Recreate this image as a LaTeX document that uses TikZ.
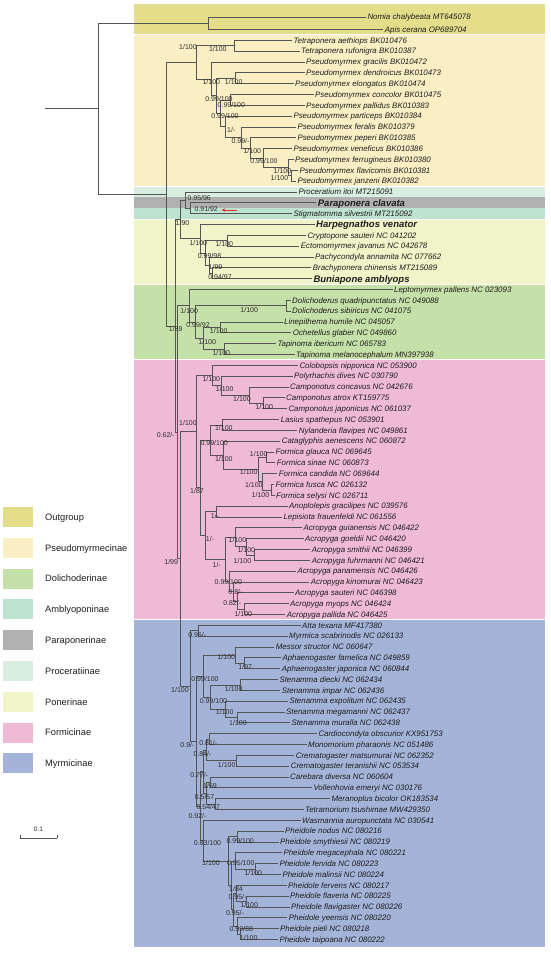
\documentclass[tikz,border=0pt]{standalone}
\usepackage{fontspec}
\setmainfont{Liberation Sans}
\usetikzlibrary{calc,arrows.meta}
\definecolor{cOut}{RGB}{228,222,138}
\definecolor{cPse}{RGB}{250,239,196}
\definecolor{cPro}{RGB}{216,238,224}
\definecolor{cPar}{RGB}{176,176,176}
\definecolor{cAmb}{RGB}{190,227,208}
\definecolor{cPon}{RGB}{240,244,200}
\definecolor{cDol}{RGB}{197,224,168}
\definecolor{cFor}{RGB}{239,186,214}
\definecolor{cMyr}{RGB}{164,179,216}
\definecolor{brc}{RGB}{85,85,85}
\definecolor{txc}{RGB}{30,30,30}
\definecolor{svcol}{RGB}{45,45,45}
\definecolor{arrred}{RGB}{230,40,50}
\tikzset{
  br/.style={draw=brc, line width=0.6pt},
  leafst/.style={anchor=west, inner xsep=1.5pt, inner ysep=0pt, text height=5.66pt, text depth=0pt, font=\fontsize{7.9}{9}\selectfont\itshape, text=txc},
  boldleaf/.style={leafst, text height=6.8pt, font=\fontsize{9.5}{11}\selectfont\bfseries\itshape},
  svst/.style={inner sep=0pt, text height=5pt, text depth=0pt, font=\fontsize{7}{8}\selectfont, text=svcol},
  legsq/.style={draw=none, minimum width=30pt, minimum height=20pt, inner sep=0pt},
  legtx/.style={anchor=west, inner sep=0pt, text height=6.7pt, text depth=0pt, font=\fontsize{9.3}{11}\selectfont, text=txc},
}
\newcounter{svn}
\newcommand\sv[3]{\stepcounter{svn}\node[svst] (sv\arabic{svn}) at (#2,#3) {#1};}
\newcommand\lf[4]{\node[leafst] (#1) at ({#3-1.5},{40.3+(#2-3)*10.833}) {#4};}
\newcommand\lfb[4]{\node[boldleaf] (#1) at ({#3-1.5},{40.3+(#2-3)*10.833}) {#4};}
\newcommand\inode[4]{\coordinate (tmp) at ($(#3)!0.5!(#4)$);\coordinate (#1) at (#2,0 |- tmp);\draw[br] (#1) |- (#3);\draw[br] (#1) |- (#4);}
\begin{document}
\begin{tikzpicture}[x=1pt,y=-1pt]
\useasboundingbox (0,0) rectangle (550,953);
% bands
\fill[cOut] (134,4) rectangle (545,34.4);
\fill[cPse] (134,35.4) rectangle (545,186);
\fill[cPro] (134,187) rectangle (545,197.3);
\fill[cPar] (134,197.3) rectangle (545,208.2);
\fill[cAmb] (134,208.2) rectangle (545,218.5);
\fill[cPon] (134,219.5) rectangle (545,283.5);
\fill[cDol] (134,284.5) rectangle (545,359.4);
\fill[cFor] (134,360.4) rectangle (545,619.4);
\fill[cMyr] (134,620.4) rectangle (545,947);
% leaves
\lf{L1}{0.85}{367.3}{Nomia chalybeata MT645078}
\lf{L2}{2}{384.7}{Apis cerana OP689704}
\lf{L3}{3}{293.3}{Tetraponera aethiops BK010476}
\lf{L4}{4}{301}{Tetraponera rufonigra BK010387}
\lf{L5}{5}{306}{Pseudomyrmex gracilis BK010472}
\lf{L6}{6}{306}{Pseudomyrmex dendroicus BK010473}
\lf{L7}{7}{295}{Pseudomyrmex elongatus BK010474}
\lf{L8}{8}{315}{Pseudomyrmex concolor BK010475}
\lf{L9}{9}{306}{Pseudomyrmex pallidus BK010383}
\lf{L10}{10}{293.3}{Pseudomyrmex particeps BK010384}
\lf{L11}{11}{297.3}{Pseudomyrmex feralis BK010379}
\lf{L12}{12}{297.3}{Pseudomyrmex peperi BK010385}
\lf{L13}{13}{293.3}{Pseudomyrmex veneficus BK010386}
\lf{L14}{14}{295}{Pseudomyrmex ferrugineus BK010380}
\lf{L15}{15}{299.3}{Pseudomyrmex flavicomis BK010381}
\lf{L16}{16}{297.3}{Pseudomyrmex janzeni BK010382}
\lf{L17}{17}{298.3}{Proceratium itoi MT215091}
\lfb{L18}{18}{317.7}{Paraponera clavata}
\lf{L19}{19}{293.3}{Stigmatomma silvestrii MT215092}
\lfb{L20}{20}{316}{Harpegnathos venator}
\lf{L21}{21}{307.3}{Cryptopone sauteri NC 041202}
\lf{L22}{22}{300.7}{Ectomomyrmex javanus NC 042678}
\lf{L23}{23}{315}{Pachycondyla annamita NC 077662}
\lf{L24}{24}{312.7}{Brachyponera chinensis MT215089}
\lfb{L25}{25}{313.3}{Buniapone amblyops}
\lf{L26}{26}{394}{Leptomyrmex pallens NC 023093}
\lf{L27}{27}{292}{Dolichoderus quadripunctatus NC 049088}
\lf{L28}{28}{292}{Dolichoderus sibiricus NC 041075}
\lf{L29}{29}{284}{Linepithema humile NC 045057}
\lf{L30}{30}{292.7}{Ochetellus glaber NC 049860}
\lf{L31}{31}{277.3}{Tapinoma ibericum NC 065783}
\lf{L32}{32}{296}{Tapinoma melanocephalum MN397938}
\lf{L33}{33}{299.3}{Colobopsis nipponica NC 053900}
\lf{L34}{34}{294}{Polyrhachis dives NC 030790}
\lf{L35}{35}{290}{Camponotus concavus NC 042676}
\lf{L36}{36}{286}{Camponotus atrox KT159775}
\lf{L37}{37}{288.3}{Camponotus japonicus NC 061037}
\lf{L38}{38}{280.7}{Lasius spathepus NC 053901}
\lf{L39}{39}{298.7}{Nylanderia flavipes NC 049861}
\lf{L40}{40}{281.7}{Cataglyphis aenescens NC 060872}
\lf{L41}{41}{275.3}{Formica glauca NC 069645}
\lf{L42}{42}{276.7}{Formica sinae NC 060873}
\lf{L43}{43}{278.7}{Formica candida NC 069644}
\lf{L44}{44}{275.3}{Formica fusca NC 026132}
\lf{L45}{45}{276}{Formica selysi NC 026711}
\lf{L46}{46}{289}{Anoplolepis gracilipes NC 039576}
\lf{L47}{47}{283.3}{Lepisiota frauenfeldi NC 061556}
\lf{L48}{48}{303.3}{Acropyga guianensis NC 046422}
\lf{L49}{49}{305}{Acropyga goeldii NC 046420}
\lf{L50}{50}{311.7}{Acropyga smithii NC 046399}
\lf{L51}{51}{311.7}{Acropyga fuhrmanni NC 046421}
\lf{L52}{52}{297.3}{Acropyga panamensis NC 046426}
\lf{L53}{53}{310.7}{Acropyga kinomurai NC 046423}
\lf{L54}{54}{295}{Acropyga sauteri NC 046398}
\lf{L55}{55}{290}{Acropyga myops NC 046424}
\lf{L56}{56}{286.7}{Acropyga pallida NC 046425}
\lf{L57}{57}{302}{Atta texana MF417380}
\lf{L58}{58}{289}{Myrmica scabrinodis NC 026133}
\lf{L59}{59}{275.7}{Messor structor NC 060647}
\lf{L60}{60}{282.3}{Aphaenogaster famelica NC 049859}
\lf{L61}{61}{281.7}{Aphaenogaster japonica NC 060844}
\lf{L62}{62}{279.3}{Stenamma diecki NC 062434}
\lf{L63}{63}{281.7}{Stenamma impar NC 062436}
\lf{L64}{64}{289.3}{Stenamma expolitum NC 062435}
\lf{L65}{65}{286}{Stenamma megamanni NC 062437}
\lf{L66}{66}{291.3}{Stenamma muralla NC 062438}
\lf{L67}{67}{318.3}{Cardiocondyla obscurior KX951753}
\lf{L68}{68}{308}{Monomorium pharaonis NC 051486}
\lf{L69}{69}{295.7}{Crematogaster matsumurai NC 062352}
\lf{L70}{70}{290.7}{Crematogaster teranishii NC 053534}
\lf{L71}{71}{290}{Carebara diversa NC 060604}
\lf{L72}{72}{313.3}{Vollenhovia emeryi NC 030176}
\lf{L73}{73}{331.3}{Meranoplus bicolor OK183534}
\lf{L74}{74}{305}{Tetramorium tsushimae MW429350}
\lf{L75}{75}{302}{Wasmannia auropunctata NC 030541}
\lf{L76}{76}{285}{Pheidole nodus NC 080216}
\lf{L77}{77}{280}{Pheidole smythiesii NC 080219}
\lf{L78}{78}{283.3}{Pheidole megacephala NC 080221}
\lf{L79}{79}{279.3}{Pheidole fervida NC 080223}
\lf{L80}{80}{282.3}{Pheidole malinsii NC 080224}
\lf{L81}{81}{288}{Pheidole fervens NC 080217}
\lf{L82}{82}{290}{Pheidole flaveria NC 080225}
\lf{L83}{83}{291}{Pheidole flavigaster NC 080226}
\lf{L84}{84}{288.7}{Pheidole yeensis NC 080220}
\lf{L85}{85}{280}{Pheidole pieli NC 080218}
\lf{L86}{86}{279.3}{Pheidole taipoana NC 080222}
% outgroup
\inode{O}{208.3}{L1}{L2}
% Pseudomyrmecinae
\inode{T}{234}{L3}{L4}
\inode{DE}{235}{L6}{L7}
\inode{CP}{230}{L8}{L9}
\inode{N10}{291}{L15}{L16}
\inode{N9}{288.3}{L14}{N10}
\inode{N8}{263.3}{L13}{N9}
\inode{N7}{250}{L12}{N8}
\inode{N6}{241}{L11}{N7}
\inode{N5}{225}{L10}{N6}
\inode{N3}{220}{CP}{N5}
\inode{N2}{216.7}{DE}{N3}
\inode{N1}{211.7}{L5}{N2}
\inode{PS}{196}{T}{N1}
% poneroids
\inode{PA}{190}{L18}{L19}
\inode{PP}{185.7}{L17}{PA}
\inode{CE}{227}{L21}{L22}
\inode{PN4}{212}{L24}{L25}
\inode{PN3}{209}{L23}{PN4}
\inode{PN2}{205}{CE}{PN3}
\inode{PN1}{200}{L20}{PN2}
\inode{PO}{180}{PP}{PN1}
% Dolichoderinae
\inode{DQ}{286.7}{L27}{L28}
\inode{LO}{220}{L29}{L30}
\inode{TA}{224}{L31}{L32}
\inode{DO3}{203.3}{LO}{TA}
\inode{DO2}{195.3}{DQ}{DO3}
\inode{DO1}{189.5}{L26}{DO2}
% Formicinae
\inode{AJ}{263.3}{L36}{L37}
\inode{CA}{249.3}{L35}{AJ}
\inode{PO2}{221.7}{L34}{CA}
\inode{CM}{212.7}{L33}{PO2}
\inode{LN}{222.7}{L38}{L39}
\inode{GS}{266.7}{L41}{L42}
\inode{FS}{271.7}{L44}{L45}
\inode{CFS}{262.7}{L43}{FS}
\inode{FM}{258}{GS}{CFS}
\inode{CF}{223.3}{L40}{FM}
\inode{LCF}{210}{LN}{CF}
\inode{AL}{216.7}{L46}{L47}
\inode{SF}{254}{L50}{L51}
\inode{GSF}{246.7}{L49}{SF}
\inode{AG}{235.7}{L48}{GSF}
\inode{MP}{244}{L55}{L56}
\inode{SMP}{237}{L54}{MP}
\inode{KSMP}{233}{L53}{SMP}
\inode{AP}{229}{L52}{KSMP}
\inode{AC}{225}{AG}{AP}
\inode{ALAC}{205}{AL}{AC}
\inode{LA}{200.5}{LCF}{ALAC}
\inode{FO}{196}{CM}{LA}
% Myrmicinae
\inode{AM}{198.3}{L57}{L58}
\inode{FJ}{244}{L60}{L61}
\inode{MFJ}{235.7}{L59}{FJ}
\inode{DI}{240.7}{L62}{L63}
\inode{MM}{237.3}{L65}{L66}
\inode{EMM}{225}{L64}{MM}
\inode{ST}{210}{DI}{EMM}
\inode{MFJST}{203.3}{MFJ}{ST}
\inode{CMo}{209}{L67}{L68}
\inode{CR}{236.7}{L69}{L70}
\inode{CMoCR}{206}{CMo}{CR}
\inode{CV}{210}{L71}{L72}
\inode{MT}{215}{L73}{L74}
\inode{CVMT}{206.5}{CV}{MT}
\inode{N77}{203}{CMoCR}{CVMT}
\inode{NS}{237.3}{L76}{L77}
\inode{FMa}{255}{L79}{L80}
\inode{MFMa}{235}{L78}{FMa}
\inode{PT}{240}{L85}{L86}
\inode{YPT}{237.5}{L84}{PT}
\inode{FF}{246}{L82}{L83}
\inode{FFF}{236.7}{L81}{FF}
\inode{FFFYPT}{233.5}{FFF}{YPT}
\inode{PH2}{231.5}{MFMa}{FFFYPT}
\inode{PH}{228}{NS}{PH2}
\inode{WP}{203.3}{L75}{PH}
\inode{CREM}{200}{N77}{WP}
\inode{Z}{196.7}{MFJST}{CREM}
\inode{MY}{190}{AM}{Z}
% backbone
\inode{B}{180.7}{FO}{MY}
\inode{X}{177.3}{DO1}{B}
\inode{R}{175}{PO}{X}
\inode{I}{166.7}{PS}{R}
\inode{root}{98.3}{O}{I}
\coordinate (rs) at (45,0 |- root);
\draw[br] (rs) -- (root);
% support values
\sv{1/100}{188}{46.7}\sv{1/100}{217.8}{49.3}\sv{1/100}{211.3}{81.7}\sv{1/100}{233.7}{81.7}
\sv{0.99/100}{219}{99}\sv{0.99/100}{231.3}{105}\sv{0.99/100}{225}{116}\sv{1/-}{231.3}{130}
\sv{0.99/-}{240.5}{141}\sv{1/100}{252.3}{151}\sv{0.99/100}{264}{161}\sv{1/100}{282.5}{170.7}
\sv{1/100}{279.5}{178.3}
\sv{0.95/96}{199.2}{197.7}\sv{0.91/92}{206.2}{209}\sv{1/90}{182.5}{223.3}\sv{1/100}{198.3}{242.7}
\sv{1/100}{224.3}{244}\sv{0.99/98}{209.5}{256}\sv{1/99}{215.5}{267.3}\sv{0.94/97}{220}{277.3}
\sv{1/100}{189.2}{310.7}\sv{1/100}{249.2}{310}\sv{0.99/92}{198}{325}\sv{1/89}{175.8}{329.3}
\sv{1/100}{218.7}{331}\sv{1/100}{207.2}{341.7}\sv{1/100}{221.3}{352.7}
\sv{1/100}{211.3}{378.7}\sv{1/100}{224.7}{389}\sv{1/100}{242}{398.7}\sv{1/100}{264.2}{406.7}
\sv{1/100}{188}{423.3}\sv{0.62/-}{165.8}{435.3}\sv{1/100}{223.8}{428.3}\sv{0.99/100}{214.2}{443.3}
\sv{1/100}{258.7}{454}\sv{1/100}{223.8}{459}\sv{1/100}{248.7}{472.3}\sv{1/100}{253.8}{484.7}
\sv{1/87}{197}{490.7}\sv{1/100}{260.5}{494.7}\sv{1/-}{215}{516}\sv{1/-}{210}{539.3}
\sv{1/100}{237.5}{540}\sv{1/100}{246.3}{550}\sv{1/100}{242.5}{561}\sv{1/99}{171.2}{562}
\sv{1/-}{216.7}{565}\sv{0.99/100}{228.3}{581.7}\sv{0.8/-}{235.5}{592.3}\sv{0.82/-}{232.2}{603}
\sv{1/100}{243.3}{614}
\sv{0.96/-}{197.2}{635}\sv{1/100}{226.3}{657.3}\sv{1/97}{245.3}{667.3}\sv{0.99/100}{205}{679.3}
\sv{1/100}{180}{690}\sv{1/100}{233.7}{689.3}\sv{0.99/100}{213.5}{701}\sv{1/100}{224.7}{712.3}
\sv{1/100}{238}{722.7}\sv{0.81/-}{208.3}{742.7}\sv{0.9/-}{187.5}{745}\sv{0.84/-}{202.5}{754.3}
\sv{1/100}{226.7}{765}\sv{0.77/-}{199.2}{775}\sv{1/69}{210}{786}\sv{0.5/57}{204.5}{796.7}
\sv{0.54/47}{208.3}{807.3}\sv{0.92/-}{197.5}{815.7}\sv{0.99/100}{240.2}{840.7}\sv{0.83/100}{207.5}{843.3}
\sv{1/100}{211}{863.3}\sv{0.95/100}{240.8}{863.3}\sv{1/100}{253.3}{872.7}\sv{1/84}{236}{889}
\sv{0.95/-}{237.5}{897}\sv{1/100}{249.2}{905}\sv{0.95/-}{235}{912.7}\sv{0.99/88}{241.3}{929.3}
\sv{1/100}{248.7}{938.3}
% red arrow
\coordinate (arrS) at (236.7,210);
\coordinate (arrE) at (221.7,210);
\draw[arrred, line width=0.8pt, -{Stealth[length=3.5pt,width=3.5pt]}] (arrS) -- (arrE);
% legend
\foreach \c/\t [count=\i from 0] in {cOut/Outgroup,cPse/Pseudomyrmecinae,cDol/Dolichoderinae,cAmb/Amblyoponinae,cPar/Paraponerinae,cPro/Proceratiinae,cPon/Ponerinae,cFor/Formicinae,cMyr/Myrmicinae}{
  \node[legsq, fill=\c] (lsq\i) at (18,{517+30.8*\i}) {};
  \node[legtx] (ltx\i) at (45,{517+30.8*\i}) {\t};
}
% scale bar
\coordinate (sbA) at (20,838);
\coordinate (sbB) at (57,838);
\draw[br] (sbA) -- (sbB);
\draw[br] (sbA) -- ++(0,-3);
\draw[br] (sbB) -- ++(0,-3);
\node[svst, font=\fontsize{6.5}{7}\selectfont] (sbl) at (38.5,829) {0.1};
\end{tikzpicture}
\end{document}
